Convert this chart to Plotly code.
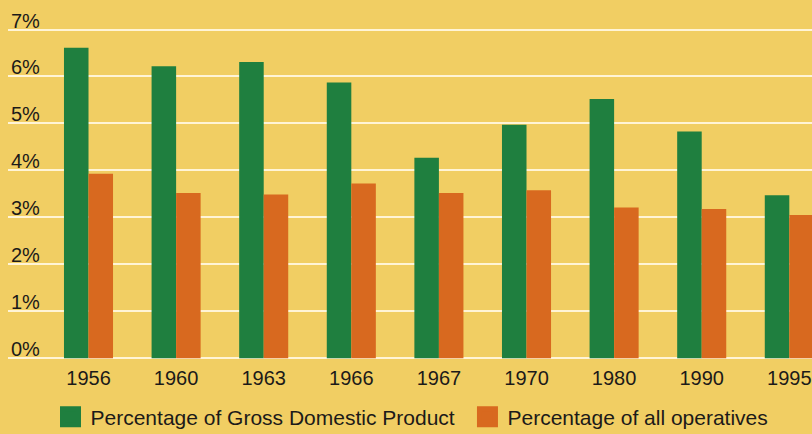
import plotly.graph_objects as go

years = ["1956", "1960", "1963", "1966", "1967", "1970", "1980", "1990", "1995"]
gdp_share = [6.61, 6.22, 6.31, 5.87, 4.27, 4.97, 5.52, 4.83, 3.47]
operatives_share = [3.93, 3.52, 3.49, 3.72, 3.52, 3.58, 3.21, 3.18, 3.05]
series_names = ["Percentage of Gross Domestic Product", "Percentage of all operatives"]
y_tick_values = [0, 1, 2, 3, 4, 5, 6, 7]
y_tick_labels = ["0%", "1%", "2%", "3%", "4%", "5%", "6%", "7%"]

GREEN = "#1F7F3F"
ORANGE = "#D8691F"
BG = "#F1CE63"
GRID = "#FFF4D6"
TEXT = "#1C1A19"
FONT = "Liberation Sans, Arial, sans-serif"

fig = go.Figure()
fig.add_trace(go.Bar(x=years, y=gdp_share, name=series_names[0],
                     marker=dict(color=GREEN, line=dict(width=0)), showlegend=False))
fig.add_trace(go.Bar(x=years, y=operatives_share, name=series_names[1],
                     marker=dict(color=ORANGE, line=dict(width=0)), showlegend=False))
# legend entries (one legend per series, positioned like the original key)
for nm, col, lg in zip(series_names, [GREEN, ORANGE], ["legend", "legend2"]):
    fig.add_trace(go.Scatter(x=[None], y=[None], mode="markers", name=nm, legend=lg,
                             marker=dict(symbol="square", size=16, color=col,
                                         line=dict(color=col, width=5)),
                             showlegend=True))

legend_common = dict(orientation="h", xref="container", yref="container", y=0.0392,
                     xanchor="left", yanchor="middle", bgcolor="rgba(0,0,0,0)",
                     font=dict(size=21, color=TEXT, family=FONT))

fig.update_layout(
    width=812, height=434,
    margin=dict(l=8, r=0, t=0, b=70.4, autoexpand=False),
    paper_bgcolor=BG, plot_bgcolor=BG,
    barmode="group", bargap=0.44, bargroupgap=0,
    font=dict(family=FONT, color=TEXT, size=20),
    xaxis=dict(type="category", range=[-0.919, 8.259], showgrid=False, zeroline=False,
               showline=False, ticks="", tickfont=dict(size=20, color=TEXT), ticklabelstandoff=0,
               fixedrange=True),
    yaxis=dict(range=[-0.12, 7.628], tickvals=y_tick_values, ticktext=y_tick_labels,
               showgrid=True, gridcolor=GRID, gridwidth=2, zeroline=False, showline=False,
               ticks="", ticklabelposition="inside top", ticklabelshift=5,
               tickfont=dict(size=20, color=TEXT), fixedrange=True),
    legend=dict(x=0.0622, **legend_common),
    legend2=dict(x=0.5757, **legend_common),
    showlegend=True,
)
fig.write_html("out.html")
